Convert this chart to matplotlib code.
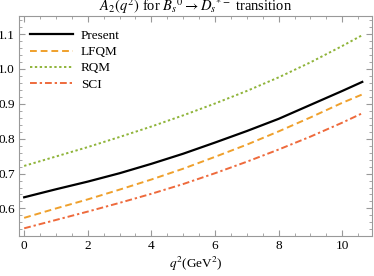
import numpy as np
from matplotlib import pyplot as plt
from matplotlib.ticker import MultipleLocator

plt.rcParams['font.family'] = ['Liberation Serif', 'DejaVu Serif']
plt.rcParams['mathtext.fontset'] = 'stix'

# q^2 points (GeV^2) and form factor values
q2 = [0, 1, 2, 3, 4, 5, 6, 7, 8, 9, 10, 10.63]
present = [0.632, 0.655, 0.677, 0.701, 0.728, 0.757, 0.789, 0.822, 0.857, 0.897, 0.937, 0.963]
lfqm = [0.573, 0.600, 0.626, 0.654, 0.683, 0.714, 0.748, 0.783, 0.821, 0.861, 0.903, 0.927]
rqm = [0.722, 0.749, 0.776, 0.805, 0.835, 0.867, 0.901, 0.937, 0.976, 1.019, 1.066, 1.097]
sci = [0.543, 0.567, 0.591, 0.616, 0.642, 0.670, 0.701, 0.734, 0.769, 0.806, 0.846, 0.873]

fig = plt.figure(figsize=(3.74, 2.76), dpi=100)
ax = fig.add_axes([0.051, 0.145, 0.944, 0.797])

ax.plot(q2, present, color='black', lw=1.6, label='Present')
ax.plot(q2, lfqm, color='#EFA02C', lw=1.4, ls=(0, (3.5, 2)), label='LFQM')
ax.plot(q2, rqm, color='#8FB43A', lw=1.4, ls=(0, (1.2, 1.3)), label='RQM')
ax.plot(q2, sci, color='#EE6A3C', lw=1.4, ls=(0, (3.5, 1.5, 1.2, 1.5)), label='SCI')

ax.set_xlim(-0.16, 10.94)
ax.set_ylim(0.521, 1.152)
ax.xaxis.set_major_locator(MultipleLocator(2))
ax.xaxis.set_minor_locator(MultipleLocator(0.5))
ax.yaxis.set_major_locator(MultipleLocator(0.1))
ax.yaxis.set_minor_locator(MultipleLocator(0.02))
ax.tick_params(which='both', direction='in', top=True, right=True, color='#999999', labelsize=9.5, pad=3)
ax.tick_params(which='major', length=4)
ax.tick_params(which='minor', length=2)
for s in ax.spines.values():
    s.set_color('#999999')

ax.set_title(r'$A_2(q^2)$ for $B_s{}^0 \rightarrow D_s{}^{*-}$ transition', fontsize=10.5, pad=1)
ax.set_xlabel(r'$q^2$(GeV$^2$)', fontsize=9.5, labelpad=2)

ax.legend(loc='upper left', bbox_to_anchor=(0.0, 0.985), frameon=False, fontsize=9.5,
          handlelength=3.3, handletextpad=0.6, labelspacing=0.3, borderpad=0.3)

fig.savefig('out.png', dpi=100)
